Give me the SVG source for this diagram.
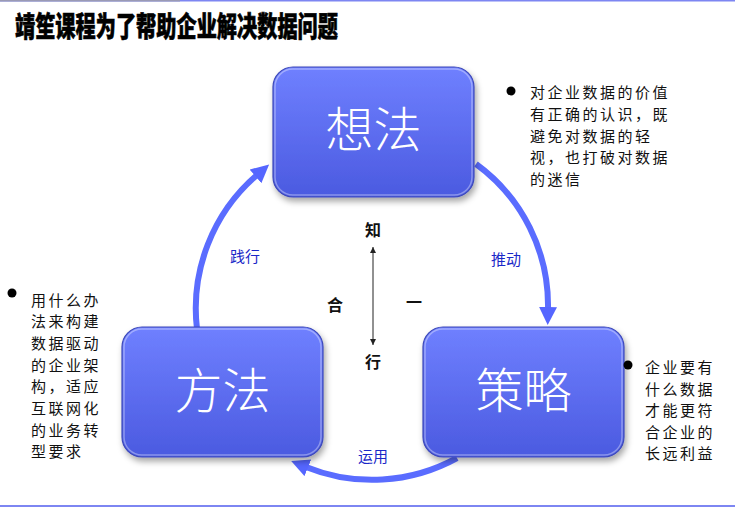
<svg xmlns="http://www.w3.org/2000/svg" width="735" height="507" viewBox="0 0 735 507">
<defs>
<linearGradient id="boxg" x1="0" y1="0" x2="0" y2="1">
<stop offset="0" stop-color="#6f80ff"/>
<stop offset="1" stop-color="#4b5ae0"/>
</linearGradient>
<filter id="sh" x="-10%" y="-10%" width="125%" height="130%">
<feDropShadow dx="2" dy="4" stdDeviation="3" flood-color="#000" flood-opacity="0.35"/>
</filter>
<marker id="ah" markerUnits="userSpaceOnUse" markerWidth="20" markerHeight="20" refX="2" refY="9" orient="auto">
<path d="M0,0 L18,9 L0,18 z" fill="#5566ff"/>
</marker>
<marker id="ts" markerUnits="userSpaceOnUse" markerWidth="8" markerHeight="8" refX="6" refY="3" orient="auto">
<path d="M0,0 L6,3 L0,6 z" fill="#222"/>
</marker>
<marker id="te" markerUnits="userSpaceOnUse" markerWidth="8" markerHeight="8" refX="0" refY="3" orient="auto">
<path d="M6,0 L0,3 L6,6 z" fill="#222"/>
</marker>
</defs>
<style>
.box{fill:url(#boxg);stroke:#3d49b8;stroke-width:1.2;filter:url(#sh)}
.hl{fill:none;stroke:#ffffff;stroke-opacity:0.35;stroke-width:1.5}
.bt{font-family:"Noto Sans CJK SC","Noto Sans",sans-serif;font-size:48px;font-weight:300;fill:#ffffff;text-anchor:middle}
.tx{font-family:"Noto Sans CJK SC","Noto Sans",sans-serif;font-size:15px;fill:#111;letter-spacing:2.5px}
.lb{font-family:"Noto Sans CJK SC","Noto Sans",sans-serif;font-size:15px;fill:#1a28c8;text-anchor:middle}
.ct{font-family:"Noto Sans CJK SC","Noto Sans",sans-serif;font-size:16px;font-weight:bold;fill:#111;text-anchor:middle}
.arc{fill:none;stroke:#5a6cff;stroke-width:6;marker-end:url(#ah)}
</style>
<rect width="735" height="507" fill="#ffffff"/>
<line x1="0" y1="0.8" x2="735" y2="0.8" stroke="#7d86f2" stroke-width="1.6"/>
<line x1="0" y1="0.8" x2="180" y2="0.8" stroke="#9a9ab4" stroke-width="1.6"/>
<line x1="0" y1="506" x2="735" y2="506" stroke="#7d86f2" stroke-width="2"/>

<text x="15" y="37" font-family="'Noto Sans CJK SC','Noto Sans',sans-serif" font-size="28" font-weight="900" fill="#000" stroke="#000" stroke-width="0.6" textLength="323" lengthAdjust="spacingAndGlyphs">靖笙课程为了帮助企业解决数据问题</text>

<g id="connectors">
<path class="arc" d="M197,329 A176,176 0 0 1 257,175"/>
<path class="arc" d="M476,164 A175,175 0 0 1 548,309"/>
<path class="arc" d="M457,458 A176,176 0 0 1 306,467"/>
<line x1="373" y1="247" x2="373" y2="345" stroke="#222" stroke-width="1" marker-start="url(#te)" marker-end="url(#ts)"/>
</g>

<g id="node-xiangfa">
<rect class="box" x="273" y="67" width="201" height="130" rx="20"/>
<rect class="hl" x="275" y="69" width="197" height="126" rx="18"/>
<text class="bt" x="373.5" y="147">想法</text>
</g>
<g id="node-fangfa">
<rect class="box" x="122" y="327" width="201" height="130" rx="20"/>
<rect class="hl" x="124" y="329" width="197" height="126" rx="18"/>
<text class="bt" x="222.5" y="408">方法</text>
</g>
<g id="node-celue">
<rect class="box" x="423" y="327" width="201" height="130" rx="20"/>
<rect class="hl" x="425" y="329" width="197" height="126" rx="18"/>
<text class="bt" x="523.5" y="408">策略</text>
</g>

<g id="labels">
<text class="lb" x="245" y="262">践行</text>
<text class="lb" x="506" y="265">推动</text>
<text class="lb" x="373" y="462">运用</text>
<text class="ct" x="373" y="236">知</text>
<text class="ct" x="335" y="311">合</text>
<text class="ct" x="414" y="308">一</text>
<text class="ct" x="373" y="368">行</text>
</g>

<g id="note-top">
<circle cx="511" cy="91" r="4.5" fill="#000"/>
<text class="tx" x="530" y="98">对企业数据的价值</text>
<text class="tx" x="530" y="120">有正确的认识，既</text>
<text class="tx" x="530" y="142">避免对数据的轻</text>
<text class="tx" x="530" y="163">视，也打破对数据</text>
<text class="tx" x="530" y="185">的迷信</text>
</g>
<g id="note-left">
<circle cx="12" cy="293" r="4.5" fill="#000"/>
<text class="tx" x="31" y="306">用什么办</text>
<text class="tx" x="31" y="327">法来构建</text>
<text class="tx" x="31" y="349">数据驱动</text>
<text class="tx" x="31" y="371">的企业架</text>
<text class="tx" x="31" y="392">构，适应</text>
<text class="tx" x="31" y="414">互联网化</text>
<text class="tx" x="31" y="436">的业务转</text>
<text class="tx" x="31" y="457">型要求</text>
</g>
<g id="note-right">
<circle cx="628" cy="365" r="4.5" fill="#000"/>
<text class="tx" x="645" y="373">企业要有</text>
<text class="tx" x="645" y="395">什么数据</text>
<text class="tx" x="645" y="416">才能更符</text>
<text class="tx" x="645" y="438">合企业的</text>
<text class="tx" x="645" y="459">长远利益</text>
</g>
</svg>
